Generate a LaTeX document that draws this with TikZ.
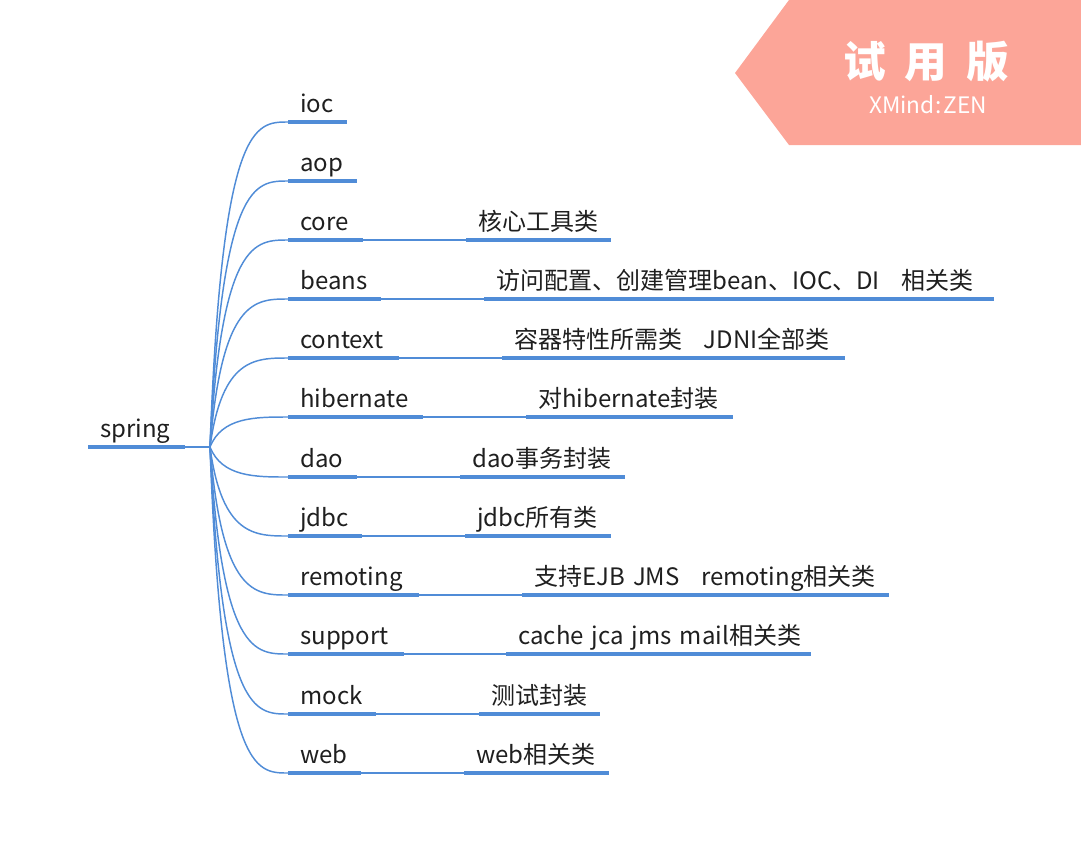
\documentclass[tikz,border=0pt]{standalone}
\usepackage{fontspec}
\setmainfont{Noto Sans CJK SC}
\usepackage{tikz}
\usetikzlibrary{positioning}
\definecolor{xblue}{RGB}{80,140,215}
\definecolor{trial}{RGB}{252,165,152}
\tikzset{
topic/.style={anchor=south west, inner xsep=9pt, inner ysep=0pt, text width=#1, align=left,
  text height=13pt, text depth=6.75pt, font=\fontsize{18pt}{22pt}\selectfont, text=black!88}, % text sits on its bar
uline/.style={draw=xblue, line width=3.6pt},
link/.style={draw=xblue, line width=1.1pt},
}

\begin{document}
\begin{tikzpicture}[x=0.75pt, y=-0.75pt]
    \useasboundingbox (0,0) rectangle (1081,865);
    % trial badge
    \fill [trial] (735,73) -- (789,0) -- (1081,0) -- (1081,145) -- (789,145) -- cycle;
    \node [text=white, font=\fontsize{32pt}{34pt}\selectfont\bfseries] (badge) at (926,62) {试\hspace{14pt}用\hspace{14pt}版};
    \node [text=white, font=\fontsize{17pt}{19pt}\selectfont] (brand) at (928,105) {XMind\hspace{1pt}:\hspace{1pt}ZEN};
    % root
    \node [topic=54pt] (spring) at (88,447) {spring};
    \coordinate (hub) at (210,447);
    \coordinate (hubA) at (222,447);
    \coordinate (hubB) at (255,447);
    % main topics
    \node [topic=25.5pt] (ioc) at (288,122) {ioc};
    \node [topic=33pt] (aop) at (288,181) {aop};
    \node [topic=37.5pt] (core) at (288,240) {core};
    \node [topic=51pt] (beans) at (288,299) {beans};
    \node [topic=64.5pt] (context) at (288,358) {context};
    \node [topic=82.5pt] (hibernate) at (288,417) {hibernate};
    \node [topic=33pt] (dao) at (288,477) {dao};
    \node [topic=36.75pt] (jdbc) at (288,536) {jdbc};
    \node [topic=79.5pt] (remoting) at (288,595) {remoting};
    \node [topic=68.25pt] (support) at (288,654) {support};
    \node [topic=47.25pt] (mock) at (288,714) {mock};
    \node [topic=36pt] (web) at (288,773) {web};
    % subtopics
    \node [topic=90pt] (coreN) at (466,240) {核心工具类};
    \node [topic=363.75pt] (beansN) at (484,299) {\mbox{访问配置、创建管理bean、IOC、DI\hspace{0.9em}相关类}};
    \node [topic=238.5pt] (contextN) at (502,358) {\mbox{容器特性所需类\hspace{0.9em}JDNI全部类}};
    \node [topic=136.5pt] (hibernateN) at (526,417) {对hibernate封装};
    \node [topic=105pt] (daoN) at (460,477) {dao事务封装};
    \node [topic=90.75pt] (jdbcN) at (465,536) {jdbc所有类};
    \node [topic=256.5pt] (remotingN) at (522,595) {\mbox{支持EJB JMS\hspace{0.9em}remoting相关类}};
    \node [topic=210pt] (supportN) at (506,654) {\mbox{cache jca jms mail相关类}};
    \node [topic=72pt] (mockN) at (479,714) {测试封装};
    \node [topic=90pt] (webN) at (464,773) {web相关类};
    % bars
    \foreach \t in {spring,ioc,aop,core,beans,context,hibernate,dao,jdbc,remoting,support,mock,web,
      coreN,beansN,contextN,hibernateN,daoN,jdbcN,remotingN,supportN,mockN,webN}
      \draw [uline] (\t.south west) -- (\t.south east);
    % connectors
    \draw [link] (spring.south east) -- (hub);
    \foreach \t in {ioc,aop,core,beans,context,hibernate,dao,jdbc,remoting,support,mock,web}
      \draw [link] (hub) .. controls (hubA |- \t.south west) and (hubB |- \t.south west) .. (\t.south west);
    \foreach \t in {core,beans,context,hibernate,dao,jdbc,remoting,support,mock,web}
      \draw [link] (\t.south east) -- (\t N.south west);
\end{tikzpicture}
\end{document}
